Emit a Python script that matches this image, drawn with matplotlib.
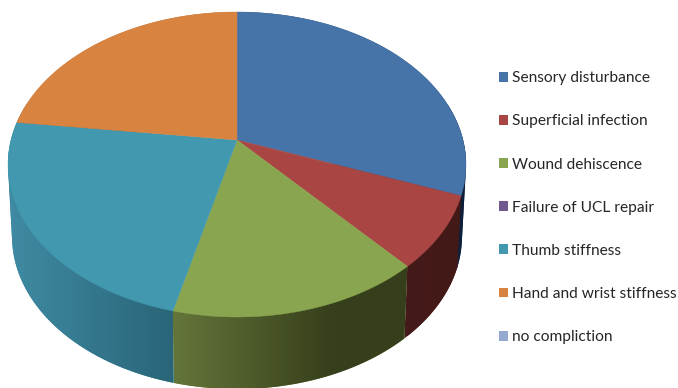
import numpy as np
import matplotlib
matplotlib.use("Agg")
import matplotlib.pyplot as plt
from matplotlib.colors import to_rgb
from matplotlib.patches import Patch, Polygon

categories = ["Sensory disturbance", "Superficial infection", "Wound dehiscence",
              "Failure of UCL repair", "Thumb stiffness",
              "Hand and wrist stiffness", "no compliction"]
counts = [4, 1, 2, 0, 3, 3, 0]
top_colors = ["#4673a8", "#a94643", "#89a54f", "#71588f", "#4198af", "#d98340", "#93a9cf"]
# Rim shading for each slice: colour at the left and right end of its visible wall
rim_colors = [("#14294a", "#0c1b33"), ("#45191a", "#431a17"), ("#64753a", "#363f1b"),
              ("#4a3a60", "#3a2d4d"), ("#3f8ba3", "#2a6578"), ("#a0602c", "#8a5225"),
              ("#6f83a8", "#5f7398")]

# Perspective view of the disc
APEX_X, APEX_Y = 237.0, 140.0
TILT = 0.1607
LIFT = 126.07
HALF_W = 226.0


def project(theta, width=HALF_W, drop=0.0):
    """Map a clockwise-from-north angle on the unit disc to canvas pixels."""
    u, v = np.sin(theta), np.cos(theta)
    w = 1 + TILT * v
    x = APEX_X + width * u / w
    y = APEX_Y + drop + (-LIFT * v) / w + APEX_Y * (1 / w - 1)
    return x, y


def hull(points):
    """Convex outline of a point set (monotone chain)."""
    pts = sorted(map(tuple, points))

    def half(seq):
        chain = []
        for p in seq:
            while len(chain) > 1:
                (ax_, ay_), (bx_, by_) = chain[-2], chain[-1]
                if (bx_ - ax_) * (p[1] - ay_) - (by_ - ay_) * (p[0] - ax_) > 0:
                    break
                chain.pop()
            chain.append(p)
        return chain[:-1]

    return np.array(half(pts) + half(pts[::-1]))


fig = plt.figure(figsize=(6.78, 3.88), dpi=100)
ax = fig.add_axes([0, 0, 1, 1])

shares = np.array(counts, dtype=float) / sum(counts)
edges = np.concatenate([[0], np.cumsum(shares)]) * 2 * np.pi
mids = (edges[:-1] + edges[1:]) / 2

# Wall of the disc, back to front: a horizontal colour ramp clipped to each slice's outline
draw_order = sorted(range(len(counts)), key=lambda j: -abs(mids[j] - np.pi))
for depth, i in enumerate(draw_order):
    if counts[i] == 0:
        continue
    t = np.linspace(edges[i], edges[i + 1], 200)
    xt, yt = project(t)
    xb, yb = project(t, width=222.0, drop=72.0)
    outline = hull(np.column_stack([np.r_[xt, xb], np.r_[yt, yb]]))
    front = np.cos(t) < 0.25
    lo, hi = xt[front].min(), xt[front].max()
    c0, c1 = np.array(to_rgb(rim_colors[i][0])), np.array(to_rgb(rim_colors[i][1]))
    ramp = np.linspace(0, 1, 256)
    if i == 2:
        ramp = np.clip(ramp / 0.68, 0, 1)
    row = c0 + (c1 - c0) * ramp[:, None]
    layer = 1 + 0.05 * depth
    wall = Polygon(outline, closed=True, facecolor=rim_colors[i][0], edgecolor="none", zorder=layer)
    ax.add_patch(wall)
    img = ax.imshow(row[None, :, :], extent=(lo, hi, 388, 0), aspect="auto", zorder=layer + 0.01)
    img.set_clip_path(wall)

# Upper face of the disc
for i in range(len(counts)):
    if counts[i] == 0:
        continue
    t = np.linspace(edges[i], edges[i + 1], 120)
    xt, yt = project(t)
    pts = np.column_stack([np.r_[APEX_X, xt], np.r_[APEX_Y, yt]])
    ax.add_patch(Polygon(pts, closed=True, facecolor=top_colors[i],
                         edgecolor=top_colors[i], linewidth=0.3, zorder=2))

ax.set_xlim(0, 678)
ax.set_ylim(388, 0)
ax.axis("off")

handles = [Patch(facecolor=c, edgecolor="none") for c in top_colors]
ax.legend(handles, categories, loc="upper left", bbox_to_anchor=(0.736, 0.8165),
          frameon=False, labelspacing=1.875, handlelength=0.6,
          handleheight=0.6, handletextpad=0.24, borderpad=0, borderaxespad=0,
          prop={"family": "Lato", "size": 11.2}, labelcolor="#262626")

fig.savefig("out.png", dpi=100)
